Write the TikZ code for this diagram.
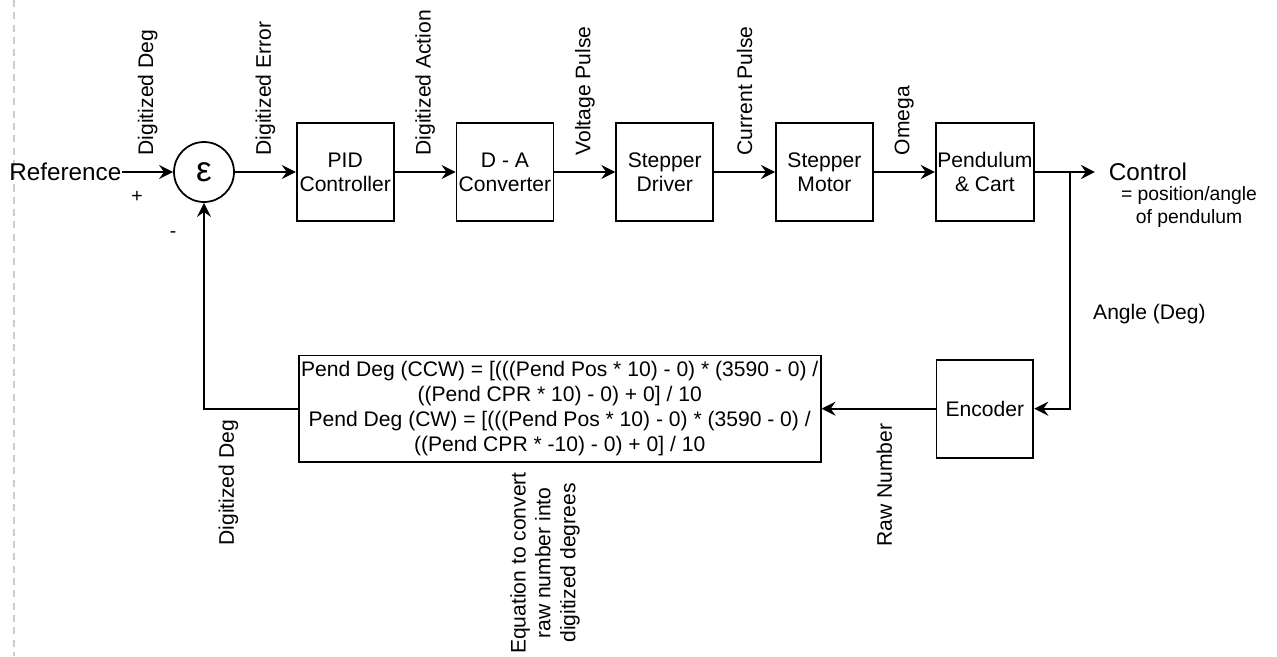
\documentclass[tikz,border=0pt]{standalone}
\usepackage{fontspec}
\setmainfont{Liberation Sans}
\usetikzlibrary{positioning,arrows.meta}
\definecolor{pagegrey}{RGB}{205,205,205}

\begin{document}
\begin{tikzpicture}[x=0.02cm,y=-0.02cm,line width=1pt,
  node distance=1.22cm,
  >={Stealth[length=8pt,width=8pt,inset=2.8pt]},
  blk/.style={draw,rectangle,minimum width=1.94cm,minimum height=1.96cm,
    inner xsep=1pt,align=center,font=\fontsize{12}{13.7}\selectfont},
  sumc/.style={draw,circle,minimum size=1.2cm,inner sep=0pt,
    font=\fontsize{20}{20}\selectfont},
  eqbox/.style={draw,rectangle,minimum width=10.44cm,minimum height=2.02cm,
    inner xsep=1pt,align=center,font=\fontsize{12}{14.2}\selectfont},
  bigtxt/.style={inner sep=0pt,font=\fontsize{13.8}{16}\selectfont},
  lbl/.style={midway,rotate=90,anchor=west,inner xsep=9pt,
    font=\fontsize{12}{13.7}\selectfont},
  lbldown/.style={rotate=90,anchor=east,inner xsep=8pt,
    font=\fontsize{12}{13.7}\selectfont},
  smalltxt/.style={font=\fontsize{11}{13.2}\selectfont,align=center}]
\useasboundingbox (0,0) rectangle (1277,656);
% page edge
\draw[pagegrey,line width=0.6pt,dash pattern=on 4pt off 3pt] (14,0) -- (14,656);

% forward path
\node[sumc] (sum) at (204,172) {ε};
\node[bigtxt,left=1.02cm of sum] (ref) {Reference};
\node[blk,right=of sum] (pid) {PID\\Controller};
\node[blk,right=of pid] (dac) {D - A\\Converter};
\node[blk,right=of dac] (drv) {Stepper\\Driver};
\node[blk,right=of drv] (mot) {Stepper\\Motor};
\node[blk,right=of mot] (pend) {Pendulum\\\& Cart};
\node[bigtxt,right=1.46cm of pend] (ctrl) {Control};
\node[smalltxt] (ctrlnote) at (1189,207) {= position/angle\\of pendulum};
\coordinate[right=0.7cm of pend.east] (br);

% feedback path
\node[blk,below=2.74cm of pend] (enc) {Encoder};
\node[eqbox,left=2.28cm of enc] (conv) {Pend Deg (CCW) = [(((Pend Pos * 10) - 0) * (3590 - 0) /\\((Pend CPR * 10) - 0) + 0] / 10\\Pend Deg (CW) = [(((Pend Pos * 10) - 0) * (3590 - 0) /\\((Pend CPR * -10) - 0) + 0] / 10};
\node[rotate=90,align=center,font=\fontsize{12}{14.2}\selectfont] (note) at (545,563)
  {Equation to convert\\raw number into\\digitized degrees};

% signs
\node[smalltxt] (plus) at (137,197) {+};
\node[smalltxt] (minus) at (173,235) {-};

\draw[->] (ref) -- node[lbl] {Digitized Deg} (sum);
\draw[->] (sum) -- node[lbl] {Digitized Error} (pid);
\draw[->] (pid) -- node[lbl] {Digitized Action} (dac);
\draw[->] (dac) -- node[lbl] {Voltage Pulse} (drv);
\draw[->] (drv) -- node[lbl] {Current Pulse} (mot);
\draw[->] (mot) -- node[lbl] {Omega} (pend);
\draw[->,shorten >=0.26cm] (pend) -- (ctrl);
\draw[->] (br) |- node[pos=0.3,right=0.33cm,font=\fontsize{12}{13.7}\selectfont] {Angle (Deg)} (enc);
\draw[->] (enc) -- node[lbldown,pos=0.45] {Raw Number} (conv);
\draw[->] (conv) -- node[lbldown,pos=0.74,inner xsep=6pt] {Digitized Deg} (conv -| sum) -- (sum);
\end{tikzpicture}
\end{document}
